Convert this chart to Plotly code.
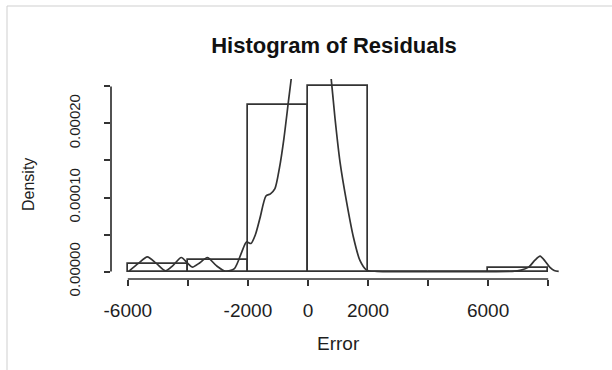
import plotly.graph_objects as go

# ---- data ----
bin_centers = [-5000, -3000, -1000, 1000, 3000, 5000, 7000]
bin_width = 2000
densities = [0.000010, 0.000015, 0.000225, 0.000250, 0.0, 0.0, 0.000005]

curve_x = [-5950, -5650, -5350, -5050, -4750, -4500, -4220, -4000, -3850, -3600,
           -3350, -3050, -2750, -2450, -2200, -2050, -1900, -1750, -1600, -1400,
           -1250, -1100, -950, -800, -650, -500, -300, 0, 250, 500, 750, 900,
           1070, 1290, 1510, 1730, 1950, 2300, 3000, 4000, 5000, 6000, 6800,
           7100, 7350, 7550, 7730, 7900, 8050, 8200, 8350]
curve_y = [0.0000010, 0.0000110, 0.0000200, 0.0000110, 0.0000010, 0.0000080,
           0.0000190, 0.0000110, 0.0000060, 0.0000120, 0.0000190, 0.0000080,
           0.0000005, 0.0000040, 0.0000270, 0.0000400, 0.0000380, 0.0000500,
           0.0000720, 0.0001020, 0.0001050, 0.0001120, 0.0001400, 0.0001800,
           0.0002300, 0.0002800, 0.0003600, 0.0004200, 0.0004200, 0.0003600,
           0.0002700, 0.0002070, 0.0001470, 0.0000930, 0.0000470, 0.0000150,
           0.0000020, 0.0000003, 0.0, 0.0, 0.0, 0.0, 0.0000003,
           0.0000020, 0.0000060, 0.0000150, 0.0000210, 0.0000140, 0.0000060,
           0.0000015, 0.0000003]

x_tickvals = [-6000, -4000, -2000, 0, 2000, 4000, 6000, 8000]
x_ticktext = ["-6000", "", "-2000", "0", "2000", "", "6000", ""]
y_tickvals = [0.0, 0.00005, 0.00010, 0.00015, 0.00020, 0.00025]
y_ticktext = ["0.00000", "", "0.00010", "", "0.00020", ""]

title_text = "Histogram of Residuals"
x_label = "Error"
y_label = "Density"

# ---- style ----
FONT = "Liberation Sans, Arial, sans-serif"
INK = "#1e1e1e"
LINE = "#333333"

fig = go.Figure()
fig.add_trace(go.Bar(
    x=bin_centers, y=densities, width=bin_width,
    marker=dict(color="rgba(0,0,0,0)", line=dict(color=LINE, width=1.7)),
    hoverinfo="skip", showlegend=False,
))
fig.add_trace(go.Scatter(
    x=curve_x, y=curve_y, mode="lines",
    line=dict(color=LINE, width=1.7, shape="spline", smoothing=0.7),
    hoverinfo="skip", showlegend=False,
))

W, H = 612, 370
ml, mr, mt, mb = 111, 47, 79, 91
pw = W - ml - mr
ph = H - mt - mb

def px_x(p):
    return (p - ml) / pw

def px_y(p):
    return (H - mb - p) / ph

fig.update_layout(
    width=W, height=H,
    margin=dict(l=ml, r=mr, t=mt, b=mb, pad=0),
    paper_bgcolor="white", plot_bgcolor="white",
    font=dict(family=FONT, color=INK),
    bargap=0,
    title=dict(text="<b>" + title_text + "</b>", x=px_x(334), xref="paper",
               y=1 - 45 / H, yref="container", yanchor="middle", xanchor="center",
               font=dict(size=22, family=FONT, color="#111")),
    xaxis=dict(range=[-6560, 8560], showgrid=False, zeroline=False, showline=False,
               tickmode="array", tickvals=x_tickvals, ticktext=x_ticktext,
               ticks="outside", ticklen=6, tickwidth=1.7, tickcolor=LINE,
               ticklabelstandoff=8, tickfont=dict(size=19, family=FONT, color=INK)),
    yaxis=dict(range=[-0.00001, 0.00026], showgrid=False, zeroline=False, showline=False,
               tickmode="array", tickvals=y_tickvals, ticktext=y_ticktext,
               ticks="outside", ticklen=6, tickwidth=1.7, tickcolor=LINE,
               tickangle=-90, ticklabelstandoff=18,
               tickfont=dict(size=15, family=FONT, color=INK)),
    shapes=[
        dict(type="line", xref="x", yref="paper", x0=-6000, x1=8000, y0=0, y1=0,
             line=dict(color=LINE, width=1.7)),
        dict(type="line", xref="paper", yref="y", x0=0, x1=0, y0=0, y1=0.00025,
             line=dict(color=LINE, width=1.7)),
        dict(type="line", xref="paper", yref="paper", x0=px_x(7), x1=px_x(7),
             y0=px_y(6), y1=px_y(370), line=dict(color="#cfcfcf", width=1)),
        dict(type="line", xref="paper", yref="paper", x0=px_x(7), x1=px_x(612),
             y0=px_y(6), y1=px_y(6), line=dict(color="#cfcfcf", width=1)),
    ],
    annotations=[
        dict(text=x_label, xref="paper", yref="paper", x=px_x(338), y=px_y(343),
             xanchor="center", yanchor="middle", showarrow=False,
             font=dict(size=19, family=FONT, color=INK)),
        dict(text=y_label, xref="paper", yref="paper", x=px_x(28), y=px_y(185),
             xanchor="center", yanchor="middle", showarrow=False, textangle=-90,
             font=dict(size=16, family=FONT, color=INK)),
    ],
)

fig.write_html("out.html")
